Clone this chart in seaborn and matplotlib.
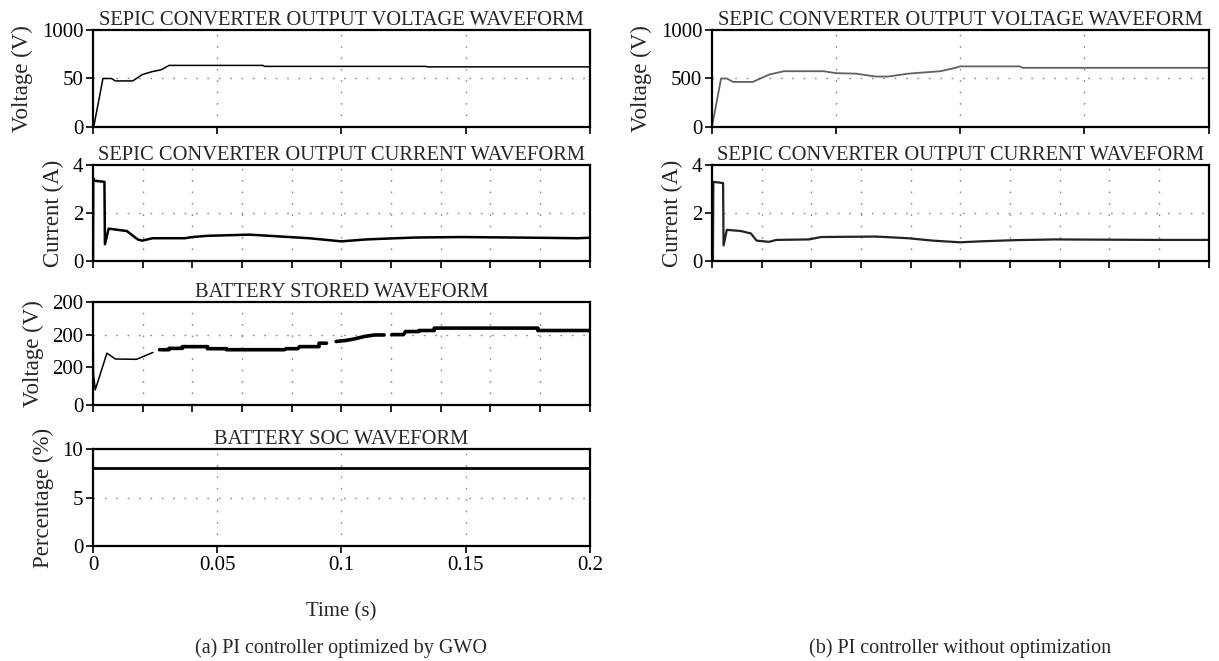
import matplotlib
matplotlib.use("Agg")
import matplotlib.pyplot as plt
import seaborn as sns
import pandas as pd

# waveform samples (time in s)
volt_a_t = [0, 0.0005, 0.004, 0.0074, 0.009, 0.016, 0.0198, 0.0237, 0.0275, 0.0306,
            0.0685, 0.0690, 0.134, 0.1345, 0.2]
volt_a_v = [0, 30, 500, 500, 475, 475, 540, 570, 590, 635, 635, 625, 625, 620, 620]

volt_b_t = [0, 0.0037, 0.006, 0.0085, 0.0165, 0.023, 0.029, 0.045, 0.05, 0.058, 0.066,
            0.071, 0.079, 0.092, 0.098, 0.1, 0.124, 0.125, 0.2]
volt_b_v = [0, 500, 500, 465, 465, 540, 575, 575, 555, 550, 520, 520, 550, 575, 610,
            625, 625, 610, 610]

curr_a_t = [0, 0.0001, 0.0003, 0.0046, 0.0048, 0.0063, 0.0136, 0.018, 0.0198, 0.024,
            0.037, 0.040, 0.046, 0.063, 0.071, 0.079, 0.087, 0.094, 0.100, 0.110,
            0.117, 0.130, 0.148, 0.179, 0.195, 0.2]
curr_a_i = [0, 3.45, 3.35, 3.3, 0.7, 1.35, 1.25, 0.9, 0.85, 0.95, 0.95, 1.0, 1.05, 1.1,
            1.05, 1.0, 0.95, 0.88, 0.82, 0.9, 0.93, 0.98, 1.0, 0.97, 0.95, 0.97]

curr_b_t = [0, 0.0004, 0.0006, 0.0045, 0.0047, 0.006, 0.0117, 0.0157, 0.018, 0.023,
            0.026, 0.039, 0.044, 0.066, 0.079, 0.089, 0.100, 0.108, 0.122, 0.138,
            0.178, 0.2]
curr_b_i = [0, 0, 3.3, 3.25, 0.65, 1.3, 1.25, 1.15, 0.85, 0.8, 0.88, 0.9, 1.0, 1.02,
            0.95, 0.85, 0.78, 0.82, 0.87, 0.9, 0.88, 0.88]

# battery trace: first transient, then broken pieces
batt_start_t = [0, 0.0002, 0.0009, 0.0056, 0.009, 0.0175, 0.0241]
batt_start_v = [290, 92, 44, 151, 134, 133, 153]

batt_t = [0.0268, 0.0306, 0.0306, 0.0360, 0.0360, 0.0461, 0.0461, 0.0538, 0.0538, 0.0770,
          0.0778, 0.0824, 0.0832, 0.0910, 0.0910, 0.0940,
          0.0979, 0.1018, 0.1049, 0.1095, 0.1134, 0.1172,
          0.1203, 0.1250, 0.1258, 0.1312, 0.1312, 0.1374, 0.1374, 0.1791, 0.1791, 0.2]
batt_v = [161, 161, 165, 165, 170, 170, 164, 164, 161, 161,
          164, 164, 170, 170, 180, 180,
          185, 188, 192, 200, 204, 204,
          205, 205, 214, 214, 217, 217, 224, 224, 217, 217]
batt_seg = [1] * 16 + [2] * 6 + [3] * 10

soc_t = [0, 0.2]
soc_v = [8, 8]

sns.set_theme(style="ticks")
plt.rcParams["font.family"] = ["Liberation Serif", "DejaVu Serif"]
plt.rcParams["font.size"] = 14

fig = plt.figure(figsize=(12.19, 6.61), dpi=100)

left_x, right_x, w = 0.0763, 0.584, 0.4075
rows = [(0.8079, 0.1467), (0.6051, 0.1452), (0.3873, 0.1558), (0.174, 0.1467)]

dot = dict(color="#8a8a8a", linestyle=(0, (1.2, 7)), linewidth=1.0)


def style_axes(ax, title, ylabel, yticks, ylabels, ylim, xstep, hgrid, show_x=False):
    ax.set_xlim(0, 0.2)
    ax.set_ylim(*ylim)
    ax.set_yticks(yticks)
    ax.set_yticklabels(ylabels)
    xt = [round(i * xstep, 3) for i in range(int(round(0.2 / xstep)) + 1)]
    ax.set_xticks(xt)
    if show_x:
        ax.set_xticklabels(["0", "0.05", "0.1", "0.15", "0.2"])
    else:
        ax.set_xticklabels([])
    for x in xt[1:-1]:
        ax.axvline(x, **dot, zorder=0)
    for y in hgrid:
        ax.axhline(y, **dot, zorder=0)
    ax.set_xlabel("")
    ax.set_ylabel(ylabel, fontsize=16.5, labelpad=6)
    ax.set_title(title, fontsize=14.8, pad=3)
    for s in ax.spines.values():
        s.set_visible(True)
        s.set_linewidth(1.6)
        s.set_color("black")
    ax.tick_params(direction="out", length=5, width=1.2, colors="black",
                   labelsize=15, pad=2)


# ---- (a) GWO ----
ax1 = fig.add_axes([left_x, rows[0][0], w, rows[0][1]])
sns.lineplot(x=volt_a_t, y=volt_a_v, ax=ax1, color="black", linewidth=1.1)
style_axes(ax1, "SEPIC CONVERTER OUTPUT VOLTAGE WAVEFORM", "Voltage (V)",
           [0, 500, 1000], ["0", "50", "1000"], (0, 1000), 0.05, [500])

ax2 = fig.add_axes([left_x, rows[1][0], w, rows[1][1]])
sns.lineplot(x=curr_a_t, y=curr_a_i, ax=ax2, color="black", linewidth=1.8)
style_axes(ax2, "SEPIC CONVERTER OUTPUT CURRENT WAVEFORM", "Current (A)",
           [0, 2, 4], ["0", "2", "4"], (0, 4), 0.02, [2])

ax3 = fig.add_axes([left_x, rows[2][0], w, rows[2][1]])
sns.lineplot(x=batt_start_t, y=batt_start_v, ax=ax3, color="black", linewidth=1.1,
             sort=False)
batt_df = pd.DataFrame({"t": batt_t, "v": batt_v, "seg": batt_seg})
sns.lineplot(data=batt_df, x="t", y="v", units="seg", estimator=None, ax=ax3,
             color="black", linewidth=2.6, sort=False)
style_axes(ax3, "BATTERY STORED WAVEFORM", "Voltage (V)",
           [0, 112, 204, 300], ["0", "200", "200", "200"], (0, 300), 0.02, [204])

ax4 = fig.add_axes([left_x, rows[3][0], w, rows[3][1]])
sns.lineplot(x=soc_t, y=soc_v, ax=ax4, color="black", linewidth=2.0)
style_axes(ax4, "BATTERY SOC WAVEFORM", "Percentage (%)",
           [0, 5, 10], ["0", "5", "10"], (0, 10), 0.05, [5], show_x=True)
ax4.set_xlabel("Time (s)", fontsize=15, labelpad=20)

# ---- (b) without optimisation ----
bx1 = fig.add_axes([right_x, rows[0][0], w, rows[0][1]])
sns.lineplot(x=volt_b_t, y=volt_b_v, ax=bx1, color="#606060", linewidth=1.3,
             sort=False)
style_axes(bx1, "SEPIC CONVERTER OUTPUT VOLTAGE WAVEFORM", "Voltage (V)",
           [0, 500, 1000], ["0", "500", "1000"], (0, 1000), 0.05, [500])

bx2 = fig.add_axes([right_x, rows[1][0], w, rows[1][1]])
sns.lineplot(x=curr_b_t, y=curr_b_i, ax=bx2, color="#222222", linewidth=1.6,
             sort=False)
style_axes(bx2, "SEPIC CONVERTER OUTPUT CURRENT WAVEFORM", "Current (A)",
           [0, 2, 4], ["0", "2", "4"], (0, 4), 0.02, [2])

fig.text(left_x + w / 2, 0.005, "(a) PI controller optimized by GWO",
         ha="center", va="bottom", fontsize=14.5)
fig.text(right_x + w / 2, 0.005, "(b) PI controller without optimization",
         ha="center", va="bottom", fontsize=14.5)

fig.savefig("out.png", dpi=100)
